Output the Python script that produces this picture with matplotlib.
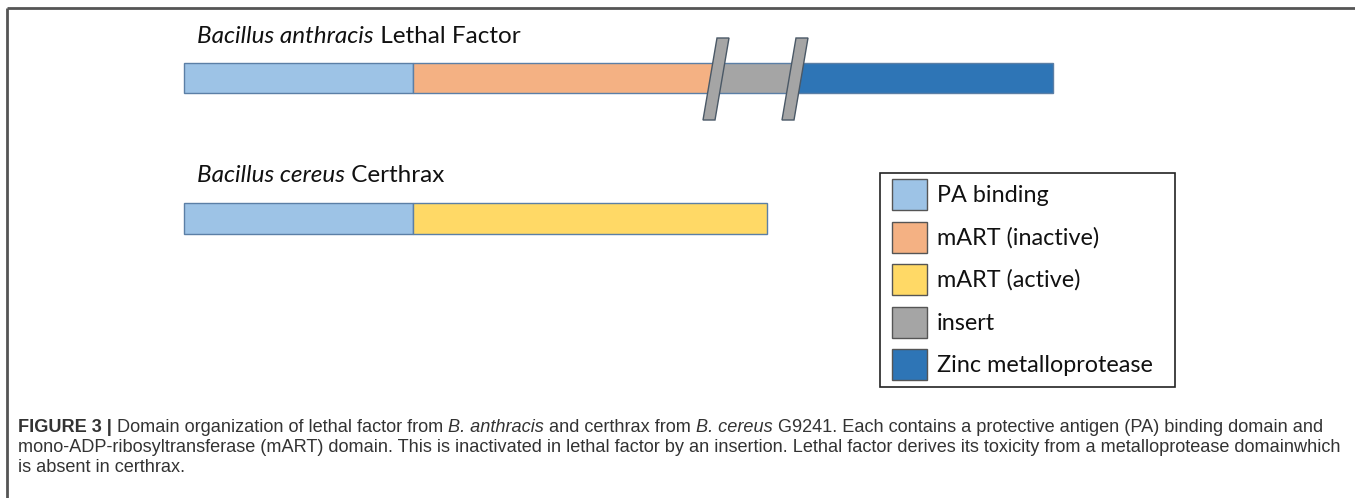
import matplotlib.pyplot as plt
from matplotlib.patches import Rectangle, Polygon

# domain lengths (relative units)
lf_domains = ['PA binding', 'mART (inactive)', 'insert', 'Zinc metalloprotease']
lf_lengths = [229, 303, 79, 258]
ct_domains = ['PA binding', 'mART (active)']
ct_lengths = [229, 354]

legend_labels = ['PA binding', 'mART (inactive)', 'mART (active)', 'insert',
                 'Zinc metalloprotease']
colors = {
    'PA binding': '#9dc3e6',
    'mART (inactive)': '#f4b183',
    'mART (active)': '#ffd966',
    'insert': '#a5a5a5',
    'Zinc metalloprotease': '#2e75b6',
}

W, H = 1355, 498
fig = plt.figure(figsize=(W / 100, H / 100), dpi=100)
ax = fig.add_axes([0, 0, 1, 1])
x0 = 184
ax.set_xlim(-x0, W - x0)
ax.set_ylim(H, 0)
ax.axis('off')

label_font = ['Lato', 'DejaVu Sans']
edge = '#5b7fa6'


def draw_protein(lengths, names, y, h):
    start = 0
    spans = []
    for L, n in zip(lengths, names):
        ax.add_patch(Rectangle((start, y), L, h, facecolor=colors[n],
                               edgecolor=edge, lw=1.0, zorder=2))
        spans.append((start, start + L))
        start += L
    return spans


lf_spans = draw_protein(lf_lengths, lf_domains, 63, 30)
ct_spans = draw_protein(ct_lengths, ct_domains, 203, 31)

# break marks around the insert
for bx in (lf_spans[2][0], lf_spans[2][1]):
    top, bot = 38, 120
    slant = 7
    half = 6
    pts = [(bx + slant - half, top), (bx + slant + half, top),
           (bx - slant + half, bot), (bx - slant - half, bot)]
    ax.add_patch(Polygon(pts, closed=True, facecolor='#a5a5a5',
                         edgecolor='#4a5866', lw=1.0, zorder=3))

fig.canvas.draw()
r = fig.canvas.get_renderer()


def runs(x, y, parts, **kw):
    for s, st, wt in parts:
        t = ax.text(x, y, s, style=st, weight=wt, va='baseline', ha='left', **kw)
        bb = t.get_window_extent(renderer=r)
        x += bb.width
    return x


# protein names
runs(13, 43, [('Bacillus anthracis', 'italic', 'normal'),
              (' Lethal Factor', 'normal', 'normal')],
     fontsize=17.5, family=label_font, color='#111111')
runs(13, 182, [('Bacillus cereus', 'italic', 'normal'),
               (' Certhrax', 'normal', 'normal')],
     fontsize=17.5, family=label_font, color='#111111')

# legend box
lx, ly = 880 - x0, 173
ax.add_patch(Rectangle((lx, ly), 295, 214, facecolor='white',
                       edgecolor='#222222', lw=1.2, zorder=2))
for i, lab in enumerate(legend_labels):
    sy = 179 + i * 42.5
    ax.add_patch(Rectangle((892 - x0, sy), 35, 31, facecolor=colors[lab],
                           edgecolor='#555555', lw=1.0, zorder=3))
    ax.text(937 - x0, sy + 23, lab, fontsize=16.8, family=label_font,
            color='#111111', va='baseline', ha='left', zorder=4)

# caption
cap_font = ['Liberation Sans Narrow', 'Liberation Sans', 'DejaVu Sans']
cap_kw = dict(fontsize=13.1, family=cap_font, color='#333333')
cx = 18 - x0
N = 'normal'
I = 'italic'
runs(cx, 432, [('FIGURE 3 | ', N, 'bold'),
               ('Domain organization of lethal factor from ', N, N),
               ('B. anthracis', I, N),
               (' and certhrax from ', N, N),
               ('B. cereus', I, N),
               (' G9241. Each contains a protective antigen (PA) binding domain and', N, N)],
     **cap_kw)
runs(cx, 452, [('mono-ADP-ribosyltransferase (mART) domain. This is inactivated in lethal '
                'factor by an insertion. Lethal factor derives its toxicity from a '
                'metalloprotease domainwhich', N, N)], **cap_kw)
runs(cx, 472, [('is absent in certhrax.', N, N)], **cap_kw)

# frame lines (top and left)
ax.plot([7 - x0, W - x0], [8, 8], color='#555555', lw=2, solid_capstyle='butt')
ax.plot([7 - x0, 7 - x0], [8, H], color='#555555', lw=2, solid_capstyle='butt')

fig.savefig('out.png', dpi=100)
